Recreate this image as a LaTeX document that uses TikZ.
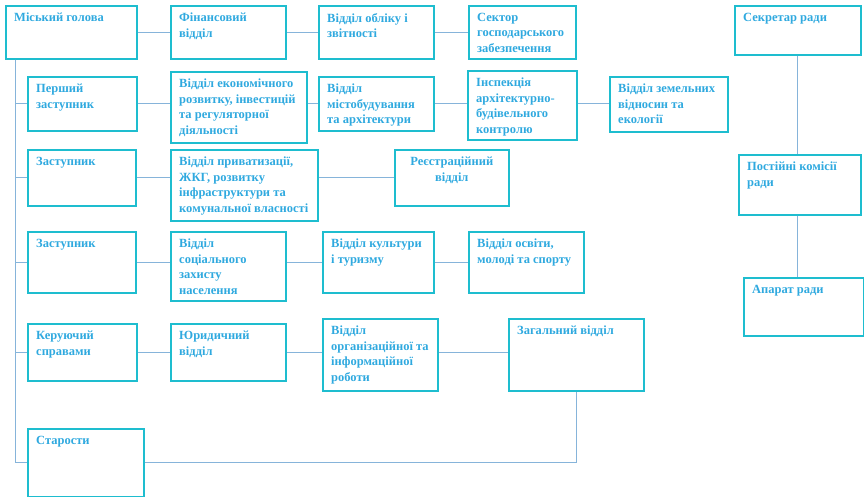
\documentclass[tikz,border=0pt]{standalone}
\usepackage{fontspec}
\setmainfont{Liberation Serif}
\usepackage{tikz}

\definecolor{boxline}{HTML}{1EBDCF}
\definecolor{linkline}{HTML}{86B4DA}
\definecolor{boxtext}{HTML}{2FA9DF}

\tikzset{
  box/.style={draw=boxline, line width=1.6pt, anchor=north west, inner sep=0pt},
  lbl/.style={label={[anchor=north west, align=left, inner sep=0pt, xshift=9pt, yshift=-8pt,
      font=\fontsize{12.5}{15.5}\selectfont\bfseries, text=boxtext]north west:{#1}}},
  link/.style={draw=linkline, line width=0.8pt}
}

\begin{document}
\begin{tikzpicture}[x=1pt,y=-1pt]
\useasboundingbox (0,0) rectangle (864,496);
% mayor and first row
\node[box, minimum width=131, minimum height=53, lbl={Міський голова}] (holova) at (5,5) {};
\node[box, minimum width=115, minimum height=53, lbl={Фінансовий\\відділ}] (finansy) at (170,5) {};
\node[box, minimum width=115, minimum height=53, lbl={Відділ обліку і\\звітності}] (oblik) at (318,5) {};
\node[box, minimum width=107, minimum height=53, lbl={Сектор\\господарського\\забезпечення}] (sektor) at (468,5) {};
% first deputy
\node[box, minimum width=109, minimum height=54, lbl={Перший\\заступник}] (pershyi) at (27,76) {};
\node[box, minimum width=136, minimum height=71, lbl={Відділ економічного\\розвитку, інвестицій\\та регуляторної\\діяльності}] (ekonom) at (170,71) {};
\node[box, minimum width=115, minimum height=54, lbl={Відділ\\містобудування\\та архітектури}] (misto) at (318,76) {};
\node[box, minimum width=109, minimum height=69, lbl={Інспекція\\архітектурно-\\будівельного\\контролю}] (inspekt) at (467,70) {};
\node[box, minimum width=118, minimum height=55, lbl={Відділ земельних\\відносин та\\екології}] (zemli) at (609,76) {};
% deputy 1
\node[box, minimum width=108, minimum height=56, lbl={Заступник}] (zast) at (27,149) {};
\node[box, minimum width=147, minimum height=71, lbl={Відділ приватизації,\\ЖКГ, розвитку\\інфраструктури та\\комунальної власності}] (pryvat) at (170,149) {};
\node[box, minimum width=114, minimum height=56,
  label={[anchor=north, align=center, inner sep=0pt, yshift=-8pt,
      font=\fontsize{12.5}{15.5}\selectfont\bfseries, text=boxtext]north:{Реєстраційний\\відділ}}] (reestr) at (394,149) {};
% deputy 2
\node[box, minimum width=108, minimum height=61, lbl={Заступник}] (zastdva) at (27,231) {};
\node[box, minimum width=115, minimum height=69, lbl={Відділ\\соціального\\захисту\\населення}] (social) at (170,231) {};
\node[box, minimum width=111, minimum height=61, lbl={Відділ культури\\і туризму}] (kultura) at (322,231) {};
\node[box, minimum width=115, minimum height=61, lbl={Відділ освіти,\\молоді та спорту}] (osvita) at (468,231) {};
% managing affairs
\node[box, minimum width=109, minimum height=57, lbl={Керуючий\\справами}] (keruuch) at (27,323) {};
\node[box, minimum width=115, minimum height=57, lbl={Юридичний\\відділ}] (jurid) at (170,323) {};
\node[box, minimum width=115, minimum height=72, lbl={Відділ\\організаційної та\\інформаційної\\роботи}] (orgviddil) at (322,318) {};
\node[box, minimum width=135, minimum height=72, lbl={Загальний відділ}] (zahalnyi) at (508,318) {};
\node[box, minimum width=116, minimum height=68, lbl={Старости}] (starosty) at (27,428) {};
% council
\node[box, minimum width=126, minimum height=49, lbl={Секретар ради}] (sekretar) at (734,5) {};
\node[box, minimum width=122, minimum height=60, lbl={Постійні комісії\\ради}] (komisii) at (738,154) {};
\node[box, minimum width=120, minimum height=58, lbl={Апарат ради}] (aparat) at (743,277) {};

\coordinate (trunk) at ([xshift=10pt]holova.south west);
\begin{scope}[on background layer/.try]
\draw[link] (holova.east) -- (finansy.west);
\draw[link] (finansy.east) -- (oblik.west);
\draw[link] (oblik.east) -- (sektor.west);
\draw[link] (pershyi.east) -- (pershyi.east -| ekonom.west);
\draw[link] (pershyi.east -| ekonom.east) -- (pershyi.east -| misto.west);
\draw[link] (misto.east) -- (misto.east -| inspekt.west);
\draw[link] (misto.east -| inspekt.east) -- (misto.east -| zemli.west);
\draw[link] (zast.east) -- (zast.east -| pryvat.west);
\draw[link] (zast.east -| pryvat.east) -- (zast.east -| reestr.west);
\draw[link] (zastdva.east) -- (social.west |- zastdva.east);
\draw[link] (social.east |- zastdva.east) -- (kultura.west);
\draw[link] (kultura.east) -- (osvita.west);
\draw[link] (keruuch.east) -- (jurid.west);
\draw[link] (jurid.east) -- (jurid.east -| orgviddil.west);
\draw[link] (jurid.east -| orgviddil.east) -- (jurid.east -| zahalnyi.west);
\draw[link] (trunk) |- (pershyi.west);
\draw[link] (trunk) |- (zast.west);
\draw[link] (trunk) |- (zastdva.west);
\draw[link] (trunk) |- (keruuch.west);
\draw[link] (trunk) |- (starosty.west);
\draw[link] (starosty.east) -| (zahalnyi.south);
\draw[link] (sekretar.south) -- (sekretar.south |- komisii.north);
\draw[link] (sekretar.south |- komisii.south) -- (sekretar.south |- aparat.north);
\end{scope}
\end{tikzpicture}
\end{document}
